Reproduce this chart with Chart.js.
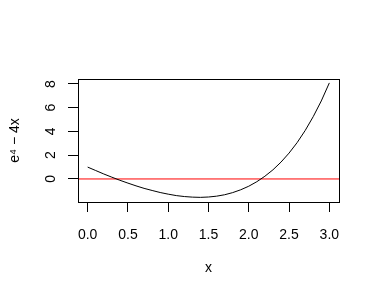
<!DOCTYPE html>
<html>
<head>
<meta charset="utf-8">
<script src="https://cdn.jsdelivr.net/npm/chart.js@4"></script>
<style>
  html, body { margin: 0; padding: 0; background: #fff; }
  #wrap { width: 380px; height: 300px; }
</style>
</head>
<body>
<div id="wrap"><canvas id="grafica" width="380" height="300"></canvas></div>
<script>
// valores
const xs = [0.0, 0.1, 0.2, 0.3, 0.4, 0.5, 0.6, 0.7, 0.8, 0.9, 1.0, 1.1, 1.2, 1.3, 1.4, 1.5,
            1.6, 1.7, 1.8, 1.9, 2.0, 2.1, 2.2, 2.3, 2.4, 2.5, 2.6, 2.7, 2.8, 2.9, 3.0];
const ys = [1.00, 0.71, 0.42, 0.15, -0.11, -0.35, -0.58, -0.79, -0.97, -1.14, -1.28, -1.40, -1.48, -1.53, -1.55, -1.52,
            -1.45, -1.33, -1.15, -0.91, -0.61, -0.23, 0.23, 0.77, 1.42, 2.18, 3.06, 4.08, 5.25, 6.57, 8.09];
const xTicks = [0, 0.5, 1, 1.5, 2, 2.5, 3];
const yTicks = [0, 2, 4, 6, 8];
const hLine = 0;
const xLim = [-0.12, 3.12];
const yLim = [-1.94, 8.42];
const xTitle = 'x';
const yTitle = 'e\u2074 \u2212 4x';

const fuente = '14px "Liberation Sans", Arial, sans-serif';

const caja = {
    id: 'caja',
    afterDraw(chart) {
        const { ctx, chartArea: a, scales } = chart;
        ctx.save();
        ctx.strokeStyle = '#000';
        ctx.lineWidth = 1;
        ctx.strokeRect(Math.round(a.left) + 0.5, Math.round(a.top) + 0.5,
                       Math.round(a.right - a.left), Math.round(a.bottom - a.top));
        ctx.fillStyle = '#000';
        ctx.font = fuente;
        ctx.textAlign = 'center';
        ctx.textBaseline = 'middle';
        // etiquetas del eje x
        xTicks.forEach(v => {
            ctx.fillText(v.toFixed(1), scales.x.getPixelForValue(v), 235);
        });
        // etiquetas del eje y, giradas como en R
        yTicks.forEach(v => {
            const py = scales.y.getPixelForValue(v);
            ctx.save();
            ctx.translate(51, py);
            ctx.rotate(-Math.PI / 2);
            ctx.fillText(String(v), 0, 0);
            ctx.restore();
        });
        // títulos
        ctx.fillText(xTitle, (a.left + a.right) / 2, 268);
        ctx.save();
        ctx.translate(15, (a.top + a.bottom) / 2);
        ctx.rotate(-Math.PI / 2);
        ctx.fillText(yTitle, 0, 0);
        ctx.restore();
        ctx.restore();
    }
};

new Chart(document.getElementById('grafica'), {
    type: 'scatter',
    data: {
        datasets: [
            {
                data: xs.map((x, i) => ({ x, y: ys[i] })),
                showLine: true, borderColor: '#000', borderWidth: 1,
                pointRadius: 0, tension: 0
            },
            {
                data: [{ x: xLim[0], y: hLine }, { x: xLim[1], y: hLine }],
                showLine: true, borderColor: '#ff0000', borderWidth: 1,
                pointRadius: 0
            }
        ]
    },
    options: {
        responsive: false,
        animation: false,
        events: [],
        layout: { padding: { top: 79, right: 41, left: 0, bottom: 0 } },
        plugins: { legend: { display: false }, tooltip: { enabled: false } },
        scales: {
            x: {
                type: 'linear', min: xLim[0], max: xLim[1],
                afterBuildTicks: s => { s.ticks = xTicks.map(v => ({ value: v })); },
                afterFit: s => { s.height = 98; },
                grid: { drawOnChartArea: false, drawTicks: true, tickLength: 10, color: '#000' },
                border: { display: false },
                ticks: { display: false }
            },
            y: {
                type: 'linear', min: yLim[0], max: yLim[1],
                afterBuildTicks: s => { s.ticks = yTicks.map(v => ({ value: v })); },
                afterFit: s => { s.width = 78; },
                grid: { drawOnChartArea: false, drawTicks: true, tickLength: 10, color: '#000' },
                border: { display: false },
                ticks: { display: false }
            }
        }
    },
    plugins: [caja]
});
</script>
</body>
</html>
